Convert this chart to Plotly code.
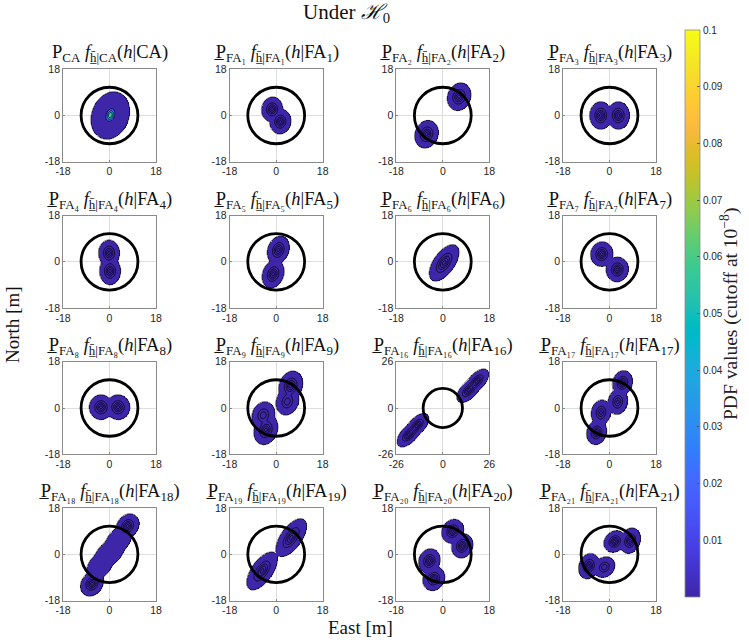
import numpy as np
import plotly.graph_objects as go

# ---------------- data ----------------
PANEL_KEYS = ["CA", "FA1", "FA2", "FA3", "FA4", "FA5", "FA6", "FA7",
              "FA8", "FA9", "FA16", "FA17", "FA18", "FA19", "FA20", "FA21"]
AXIS_HALF = [18, 18, 18, 18, 18, 18, 18, 18, 18, 18, 26, 18, 18, 18, 18, 18]
TICK_VALS = [[-h, 0, h] for h in AXIS_HALF]
RING_START = [0.02] + [1.5e-6] * 15
RING_STEP = [0.02] + [2.5e-6] * 15
CUTOFF = 1e-8
ALERT_RADIUS = 11.0

# mixture components:
# (amplitude, east, north, sigma_major, sigma_minor, angle_deg)
COMP_CA = [(0.0050, 0.3, 0.0, 1.85, 1.40, 70), (0.070, 0.3, 0.2, 1.50, 0.95, 70)]
COMP_FA1 = [(1e-5, -1.6, 2.4, 1.30, 1.10, 80), (1e-5, 1.6, -2.4, 1.30, 1.10, 80)]
COMP_FA2 = [(1e-5, 6.3, 7.3, 1.48, 1.20, 70), (1e-5, -6.3, -7.3, 1.48, 1.20, 70)]
COMP_FA3 = [(1e-5, -3.4, 0.0, 1.44, 1.16, 90), (1e-5, 3.4, 0.0, 1.44, 1.16, 90)]
COMP_FA4 = [(1e-5, -0.2, 3.4, 1.37, 1.10, 90), (1e-5, 0.2, -3.6, 1.44, 1.10, 90)]
COMP_FA5 = [(1e-5, 0.8, 4.6, 1.50, 1.10, 70), (1e-5, -1.2, -4.8, 1.50, 1.10, 70)]
COMP_FA6 = [(1e-5, 0.5, -0.4, 2.20, 1.10, 55)]
COMP_FA7 = [(1e-5, -3.0, 3.0, 1.30, 1.16, 80), (1e-5, 3.0, -3.0, 1.30, 1.16, 80)]
COMP_FA8 = [(1e-5, -3.3, 0.3, 1.30, 1.23, 90), (1e-5, 3.3, 0.3, 1.30, 1.23, 90)]
COMP_FA9 = [(1e-5, 5.6, 8.6, 1.60, 1.20, 70), (6e-6, 4.3, 2.5, 1.50, 1.20, 70),
            (1e-5, -4.0, -8.5, 1.60, 1.20, 70), (6e-6, -5.0, -2.8, 1.50, 1.20, 70)]
COMP_FA16 = [(1e-5, 14.5, 10.0, 2.30, 1.20, 47), (1e-5, 19.0, 15.0, 2.30, 1.20, 47),
             (1e-5, -14.5, -10.0, 2.30, 1.20, 47), (1e-5, -19.0, -15.0, 2.30, 1.20, 47)]
COMP_FA17 = [(1e-5, 5.0, 9.8, 1.30, 1.03, 75), (7.5e-6, 3.2, 2.4, 1.37, 1.03, 80),
             (7.5e-6, -3.3, -1.8, 1.37, 1.03, 80), (1e-5, -5.0, -9.5, 1.30, 1.03, 75)]
COMP_FA18 = [(1e-5, 7.0, 11.0, 1.37, 1.10, 55), (1e-5, -6.8, -11.5, 1.37, 1.10, 55),
             (1.1e-6, 3.5, 5.5, 2.00, 1.35, 50), (1.1e-6, 0.0, 0.5, 2.00, 1.40, 40),
             (1.1e-6, -3.8, -4.5, 2.00, 1.35, 50)]
COMP_FA19 = [(1e-5, 5.8, 6.5, 2.30, 1.10, 55), (1e-5, -5.5, -6.5, 2.30, 1.10, 55)]
COMP_FA20 = [(1e-5, 3.8, 9.0, 1.30, 1.10, 60), (1e-5, 7.5, 3.3, 1.30, 1.10, 70),
             (1e-5, -5.2, -2.6, 1.30, 1.10, 70), (1e-5, -3.5, -9.5, 1.30, 1.10, 60)]
COMP_FA21 = [(1e-5, 2.0, 5.0, 1.23, 1.03, 45), (1e-5, 8.0, 5.3, 1.37, 1.03, 70),
             (1e-5, -8.0, -4.6, 1.37, 1.03, 70), (6e-6, -2.0, -5.0, 1.23, 1.03, 45)]
COMPONENTS = [COMP_CA, COMP_FA1, COMP_FA2, COMP_FA3, COMP_FA4, COMP_FA5, COMP_FA6, COMP_FA7,
              COMP_FA8, COMP_FA9, COMP_FA16, COMP_FA17, COMP_FA18, COMP_FA19, COMP_FA20, COMP_FA21]

CB_TICKS = [0.01, 0.02, 0.03, 0.04, 0.05, 0.06, 0.07, 0.08, 0.09, 0.1]
CB_TICKTEXT = ["0.01", "0.02", "0.03", "0.04", "0.05", "0.06", "0.07", "0.08", "0.09", "0.1"]

PARULA = [
    [0.2422, 0.1504, 0.6603], [0.2504, 0.1650, 0.7076], [0.2578, 0.1818, 0.7511], [0.2647, 0.1978, 0.7952],
    [0.2706, 0.2147, 0.8364], [0.2751, 0.2342, 0.8710], [0.2783, 0.2559, 0.8991], [0.2803, 0.2782, 0.9221],
    [0.2813, 0.3006, 0.9414], [0.2810, 0.3228, 0.9579], [0.2795, 0.3447, 0.9717], [0.2760, 0.3667, 0.9829],
    [0.2699, 0.3892, 0.9906], [0.2602, 0.4123, 0.9952], [0.2440, 0.4358, 0.9988], [0.2206, 0.4603, 0.9973],
    [0.1963, 0.4847, 0.9892], [0.1834, 0.5074, 0.9798], [0.1786, 0.5289, 0.9682], [0.1764, 0.5499, 0.9520],
    [0.1687, 0.5703, 0.9359], [0.1540, 0.5902, 0.9218], [0.1460, 0.6091, 0.9079], [0.1380, 0.6276, 0.8973],
    [0.1248, 0.6459, 0.8883], [0.1113, 0.6635, 0.8763], [0.0952, 0.6798, 0.8598], [0.0689, 0.6948, 0.8394],
    [0.0297, 0.7082, 0.8163], [0.0036, 0.7203, 0.7917], [0.0067, 0.7312, 0.7660], [0.0433, 0.7411, 0.7394],
    [0.0964, 0.7500, 0.7120], [0.1408, 0.7584, 0.6842], [0.1717, 0.7670, 0.6554], [0.1938, 0.7758, 0.6251],
    [0.2161, 0.7843, 0.5923], [0.2470, 0.7918, 0.5567], [0.2906, 0.7973, 0.5188], [0.3406, 0.8008, 0.4789],
    [0.3909, 0.8029, 0.4354], [0.4456, 0.8024, 0.3909], [0.5044, 0.7993, 0.3480], [0.5616, 0.7942, 0.3045],
    [0.6174, 0.7876, 0.2612], [0.6720, 0.7793, 0.2227], [0.7242, 0.7698, 0.1910], [0.7738, 0.7598, 0.1646],
    [0.8203, 0.7498, 0.1535], [0.8634, 0.7406, 0.1596], [0.9035, 0.7330, 0.1774], [0.9393, 0.7288, 0.2100],
    [0.9728, 0.7298, 0.2394], [0.9956, 0.7434, 0.2371], [0.9970, 0.7659, 0.2199], [0.9952, 0.7893, 0.2028],
    [0.9892, 0.8136, 0.1885], [0.9786, 0.8386, 0.1766], [0.9676, 0.8639, 0.1643], [0.9610, 0.8890, 0.1537],
    [0.9597, 0.9135, 0.1423], [0.9628, 0.9373, 0.1265], [0.9691, 0.9606, 0.1064], [0.9769, 0.9839, 0.0805]]

# ---------------- helpers ----------------
W, H = 749, 640
COL_LEFT = [63.0, 229.7, 396.3, 563.0]
ROW_TOP = [69.3, 215.6, 361.8, 508.1]
BOX_W, BOX_H = 93.0, 92.4
SERIF = "Liberation Serif, DejaVu Serif, serif"
SANS = "Liberation Sans, Arial, sans-serif"

colorscale = [[i / (len(PARULA) - 1),
               "rgb(%d,%d,%d)" % tuple(int(round(c * 255)) for c in rgb)]
              for i, rgb in enumerate(PARULA)]


def pdf_grid(comps, half):
    g = np.linspace(-half, half, 181)
    X, Y = np.meshgrid(g, g)
    Z = np.zeros_like(X)
    for amp, mx, my, smaj, smin, ang in comps:
        t = np.deg2rad(ang)
        dx, dy = X - mx, Y - my
        u = dx * np.cos(t) + dy * np.sin(t)
        v = -dx * np.sin(t) + dy * np.cos(t)
        Z += amp * np.exp(-0.5 * ((u / smaj) ** 2 + (v / smin) ** 2))
    return g, Z


def sub_digits(s):
    return s.translate(str.maketrans("0123456789", "₀₁₂₃₄₅₆₇₈₉"))


HBAR = "h\u0304\u0332"


def title_text(key):
    if key == "CA":
        return ("P<sub>CA</sub> <i>f</i><sub>%s|CA</sub>(<i>h</i>|CA)" % HBAR)
    num = key[2:]
    fa_sub = "FA" + sub_digits(num)
    return ("P\u0332<sub>%s</sub> <i>f</i><sub>%s|%s</sub>(<i>h</i>|FA<sub>%s</sub>)"
            % (fa_sub, HBAR, fa_sub, num))


fig = go.Figure()
layout = dict(
    width=W, height=H, template="none",
    paper_bgcolor="white", plot_bgcolor="white",
    margin=dict(l=0, r=0, t=0, b=0),
    showlegend=False,
    coloraxis=dict(
        colorscale=colorscale, cmin=0, cmax=0.1,
        colorbar=dict(
            x=685 / W, xanchor="left", xpad=0,
            y=1 - 30 / H, yanchor="top", ypad=0,
            len=567 / H, lenmode="fraction",
            thickness=15, thicknessmode="pixels",
            outlinewidth=0.8, outlinecolor="#8c8c8c",
            tickvals=CB_TICKS, ticktext=CB_TICKTEXT,
            ticks="inside", ticklen=3, tickcolor="#555555",
            tickfont=dict(family=SANS, size=10, color="#262626"),
        ),
    ),
)
shapes = []
annotations = []

for i, key in enumerate(PANEL_KEYS):
    r, c = divmod(i, 4)
    n = "" if i == 0 else str(i + 1)
    xa, ya = "x" + n, "y" + n
    half = AXIS_HALF[i]
    g, Z = pdf_grid(COMPONENTS[i], half)
    rs, rstep = RING_START[i], RING_STEP[i]
    band = np.where(Z >= rs, rs + np.floor((Z - rs) / rstep) * rstep, 0.0)
    Zfill = np.where(Z >= CUTOFF, band, np.nan).astype(np.float32)
    gx = g.astype(np.float32)
    zc = Z.astype(np.float32)

    fig.add_trace(go.Heatmap(x=gx, y=gx, z=Zfill, coloraxis="coloraxis", hoverinfo="skip",
                             xaxis=xa, yaxis=ya))
    # boundary at the cutoff
    fig.add_trace(go.Contour(x=gx, y=gx, z=zc, autocontour=False,
                             contours=dict(start=CUTOFF, end=CUTOFF, size=1, coloring="none"),
                             line=dict(color="black", width=0.7),
                             showscale=False, hoverinfo="skip", xaxis=xa, yaxis=ya))
    # inner iso-lines
    fig.add_trace(go.Contour(x=gx, y=gx, z=zc, autocontour=False,
                             contours=dict(start=rs, end=float(Z.max()), size=rstep,
                                           coloring="none"),
                             line=dict(color="black", width=0.7),
                             showscale=False, hoverinfo="skip", xaxis=xa, yaxis=ya))

    x0 = COL_LEFT[c] / W
    y1 = 1 - ROW_TOP[r] / H
    common = dict(range=[-half, half], tickvals=TICK_VALS[i],
                  ticktext=[str(v) for v in TICK_VALS[i]],
                  showgrid=True, gridcolor="#dedede", gridwidth=0.8,
                  zeroline=False, showline=True, linecolor="#8a8a8a", linewidth=0.8,
                  mirror=True, ticks="inside", ticklen=2, tickcolor="#8a8a8a",
                  tickfont=dict(family=SANS, size=10.5, color="#262626"),
                  fixedrange=True)
    layout["xaxis" + n] = dict(domain=[x0, x0 + BOX_W / W], anchor=ya, **common)
    layout["yaxis" + n] = dict(domain=[y1 - BOX_H / H, y1], anchor=xa, **common)

    shapes.append(dict(type="circle", xref=xa, yref=ya,
                       x0=-ALERT_RADIUS, x1=ALERT_RADIUS, y0=-ALERT_RADIUS, y1=ALERT_RADIUS,
                       line=dict(color="black", width=2.8), layer="above"))
    annotations.append(dict(text=title_text(key), xref=xa + " domain", yref=ya + " domain",
                            x=0.5, y=1, xanchor="center", yanchor="bottom", yshift=2,
                            showarrow=False,
                            font=dict(family=SERIF, size=18.5, color="#111111")))

annotations.append(dict(text="Under <i>ℋ</i><sub>0</sub>", xref="paper", yref="paper",
                        x=346 / W, y=1 - 13 / H, xanchor="center", yanchor="middle",
                        showarrow=False, font=dict(family=SERIF, size=21, color="#111111")))
annotations.append(dict(text="East [m]", xref="paper", yref="paper",
                        x=360 / W, y=1 - 627 / H, xanchor="center", yanchor="middle",
                        showarrow=False, font=dict(family=SERIF, size=19, color="#111111")))
annotations.append(dict(text="North [m]", xref="paper", yref="paper",
                        x=12 / W, y=1 - 325 / H, xanchor="center", yanchor="middle",
                        textangle=-90, showarrow=False,
                        font=dict(family=SERIF, size=19, color="#111111")))
annotations.append(dict(text="PDF values (cutoff at 10<sup>−8</sup>)", xref="paper", yref="paper",
                        x=729 / W, y=1 - 314 / H, xanchor="center", yanchor="middle",
                        textangle=-90, showarrow=False,
                        font=dict(family=SERIF, size=19.5, color="#222222")))

layout["shapes"] = shapes
layout["annotations"] = annotations
fig.update_layout(**layout)
fig.write_html("out.html")
